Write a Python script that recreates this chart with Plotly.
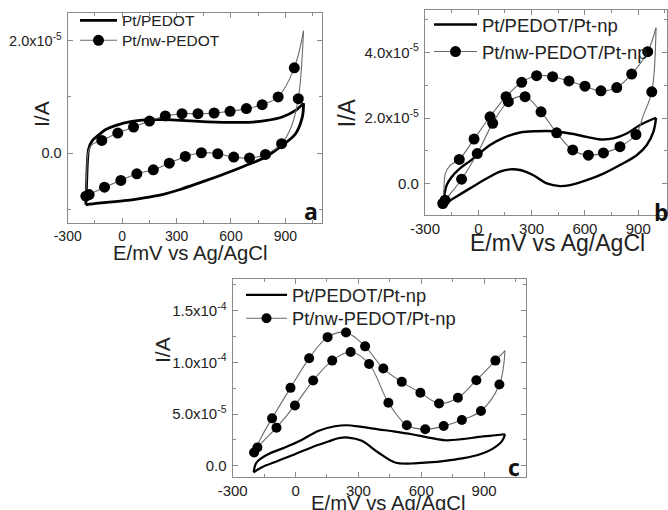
import numpy as np
import plotly.graph_objects as go

W, H = 668, 510
SCALE = 1e-5  # currents below are given in units of 1e-5 A

# ---------------- Panel a ----------------
a_pedot_fwd_E = [-200, -196, -191, -184, -165, -130, -90, -38, 54, 146, 238, 330, 422, 514, 606, 698, 790, 882, 956, 1000]
a_pedot_fwd_I = [-0.92, -0.55, -0.15, 0.08, 0.22, 0.32, 0.42, 0.49, 0.565, 0.595, 0.595, 0.583, 0.565, 0.553, 0.548, 0.548, 0.577, 0.643, 0.76, 0.89]
a_pedot_rev_E = [1000, 993, 956, 882, 790, 698, 606, 514, 422, 330, 238, 146, 54, -38, -130, -200]
a_pedot_rev_I = [0.89, 0.64, 0.345, 0.137, -0.07, -0.2, -0.32, -0.43, -0.535, -0.637, -0.726, -0.786, -0.833, -0.863, -0.893, -0.92]

a_nw_fwd_E = [-200, -195, -188, -172, -145, -112, -24, 63, 151, 238, 330, 418, 507, 595, 685, 772, 860, 949, 1000]
a_nw_fwd_I = [-0.77, -0.35, 0.0, 0.13, 0.19, 0.226, 0.357, 0.464, 0.571, 0.661, 0.702, 0.702, 0.714, 0.744, 0.792, 0.863, 1.0, 1.518, 2.18]
a_nw_rev_E = [1000, 971, 930, 879, 790, 702, 615, 527, 437, 348, 260, 172, 81, -7, -97, -182, -200]
a_nw_rev_I = [2.18, 0.97, 0.45, 0.167, -0.024, -0.089, -0.071, -0.012, 0.006, -0.06, -0.179, -0.298, -0.369, -0.488, -0.607, -0.738, -0.768]
a_mark_E = [-112, -24, 63, 151, 238, 330, 418, 507, 595, 685, 772, 860, 949,
            971, 879, 790, 702, 615, 527, 437, 348, 260, 172, 81, -7, -97, -182, -200]
a_mark_I = [0.226, 0.357, 0.464, 0.571, 0.661, 0.702, 0.702, 0.714, 0.744, 0.792, 0.863, 1.0, 1.518,
            0.97, 0.167, -0.024, -0.089, -0.071, -0.012, 0.006, -0.06, -0.179, -0.298, -0.369, -0.488, -0.607, -0.738, -0.768]

# ---------------- Panel b ----------------
b_pedot_fwd_E = [-200, -190, -178, -150, -103, -47, 10, 66, 141, 235, 328, 422, 516, 610, 685, 760, 835, 910, 1000]
b_pedot_fwd_I = [-0.65, -0.3, -0.04, 0.21, 0.47, 0.69, 0.94, 1.18, 1.40, 1.56, 1.60, 1.60, 1.53, 1.43, 1.35, 1.38, 1.53, 1.79, 2.01]
b_pedot_rev_E = [1000, 985, 948, 891, 797, 704, 610, 516, 460, 385, 310, 235, 178, 122, 47, -47, -141, -200]
b_pedot_rev_I = [2.01, 1.58, 1.18, 0.87, 0.57, 0.31, 0.11, -0.04, -0.07, 0.01, 0.26, 0.42, 0.44, 0.37, 0.16, -0.14, -0.45, -0.65]

b_nw_fwd_E = [-200, -194, -186, -160, -107, -24, 66, 156, 244, 328, 418, 510, 600, 690, 779, 863, 953, 1000]
b_nw_fwd_I = [-0.6, -0.2, 0.3, 0.55, 0.74, 1.36, 2.04, 2.65, 3.09, 3.29, 3.26, 3.13, 2.97, 2.83, 2.93, 3.34, 4.02, 4.75]
b_nw_rev_E = [1000, 976, 929, 887, 797, 704, 619, 531, 441, 353, 263, 169, 81, -6, -94, -187, -200]
b_nw_rev_I = [4.75, 2.80, 2.09, 1.50, 1.13, 0.94, 0.87, 1.03, 1.55, 2.19, 2.65, 2.50, 1.84, 0.92, 0.14, -0.50, -0.6]
b_mark_E = [-107, -24, 66, 156, 244, 328, 418, 510, 600, 690, 779, 863, 953,
            976, 887, 797, 704, 619, 531, 441, 353, 263, 169, 81, -6, -94, -187, -200]
b_mark_I = [0.74, 1.36, 2.04, 2.65, 3.09, 3.29, 3.26, 3.13, 2.97, 2.83, 2.93, 3.34, 4.02,
            2.80, 1.50, 1.13, 0.94, 0.87, 1.03, 1.55, 2.19, 2.65, 2.50, 1.84, 0.92, 0.14, -0.50, -0.6]

# ---------------- Panel c ----------------
c_pedot_fwd_E = [-200, -192, -179, -131, -51, 29, 108, 188, 244, 316, 395, 475, 555, 635, 714, 794, 874, 954, 1000]
c_pedot_fwd_I = [-0.64, 0.1, 0.48, 1.12, 1.77, 2.50, 3.37, 3.82, 3.92, 3.76, 3.53, 3.31, 3.05, 2.73, 2.47, 2.57, 2.79, 2.95, 3.05]
c_pedot_rev_E = [1000, 986, 938, 874, 794, 714, 635, 555, 475, 395, 316, 252, 204, 156, 76, -3, -83, -163, -200]
c_pedot_rev_I = [3.05, 2.41, 1.61, 1.06, 0.71, 0.48, 0.32, 0.22, 0.32, 1.28, 2.41, 2.73, 2.66, 2.34, 1.77, 1.12, 0.48, -0.16, -0.64]

c_nw_fwd_E = [-198, -160, -112, -24, 65, 153, 241, 332, 419, 507, 596, 685, 775, 863, 954, 1000]
c_nw_fwd_I = [1.28, 2.9, 4.59, 7.54, 10.4, 12.45, 12.9, 11.56, 9.41, 8.12, 7.06, 6.03, 6.58, 8.28, 10.18, 11.14]
c_nw_rev_E = [1000, 973, 885, 794, 707, 619, 531, 443, 351, 263, 175, 84, -3, -91, -182, -198]
c_nw_rev_I = [11.14, 7.86, 5.30, 4.43, 3.85, 3.53, 3.92, 6.10, 9.85, 11.01, 10.18, 8.25, 5.84, 3.69, 1.77, 1.28]
c_mark_E = [-112, -24, 65, 153, 241, 332, 419, 507, 596, 685, 775, 863, 954,
            973, 885, 794, 707, 619, 531, 443, 351, 263, 175, 84, -3, -91, -182, -198]
c_mark_I = [4.59, 7.54, 10.4, 12.45, 12.9, 11.56, 9.41, 8.12, 7.06, 6.03, 6.58, 8.28, 10.18,
            7.86, 5.30, 4.43, 3.85, 3.53, 3.92, 6.10, 9.85, 11.01, 10.18, 8.25, 5.84, 3.69, 1.77, 1.28]

x_ticks = [-300, 0, 300, 600, 900]
x_ticktext = ["-300", "0", "300", "600", "900"]
a_yticks = [0, 2e-5]
a_yticktext = ["0.0", "2.0x10<sup>-5</sup>"]
b_yticks = [0, 2e-5, 4e-5]
b_yticktext = ["0.0", "2.0x10<sup>-5</sup>", "4.0x10<sup>-5</sup>"]
c_yticks = [0, 5e-5, 1e-4, 1.5e-4]
c_yticktext = ["0.0", "5.0x10<sup>-5</sup>", "1.0x10<sup>-4</sup>", "1.5x10<sup>-4</sup>"]

names = {
    "a": ("Pt/PEDOT", "Pt/nw-PEDOT"),
    "b": ("Pt/PEDOT/Pt-np", "Pt/nw-PEDOT/Pt-np"),
    "c": ("Pt/PEDOT/Pt-np", "Pt/nw-PEDOT/Pt-np"),
}

FONT = "Liberation Sans, Arial, sans-serif"
FRAME = "#8a8a8a"
THIN = "#6a6a6a"


def px(x):
    return x / W


def py(y):
    return 1 - y / H


panels = {
    "a": dict(xd=(67.7, 321.7), yd=(13.3, 222.7), xr=(-300, 1100), yr=(-1.24e-5, 2.49e-5),
              yt=(a_yticks, a_yticktext), ymin=1e-5, lw=2.8, ms=11, tf=14, yf=14.5,
              data=(a_pedot_fwd_E, a_pedot_fwd_I, a_pedot_rev_E, a_pedot_rev_I,
                    a_nw_fwd_E, a_nw_fwd_I, a_nw_rev_E, a_nw_rev_I, a_mark_E, a_mark_I),
              ax="", legs=("legend", "legend2")),
    "b": dict(xd=(425, 666.7), yd=(10, 215), xr=(-300, 1060), yr=(-0.95e-5, 5.29e-5),
              yt=(b_yticks, b_yticktext), ymin=1e-5, lw=2.4, ms=11, tf=15, yf=15,
              data=(b_pedot_fwd_E, b_pedot_fwd_I, b_pedot_rev_E, b_pedot_rev_I,
                    b_nw_fwd_E, b_nw_fwd_I, b_nw_rev_E, b_nw_rev_I, b_mark_E, b_mark_I),
              ax="2", legs=("legend3", "legend4")),
    "c": dict(xd=(232.7, 526), yd=(279.3, 476.7), xr=(-300, 1100), yr=(-1.06e-5, 1.805e-4),
              yt=(c_yticks, c_yticktext), ymin=2.5e-5, lw=2.2, ms=10, tf=15, yf=15,
              data=(c_pedot_fwd_E, c_pedot_fwd_I, c_pedot_rev_E, c_pedot_rev_I,
                    c_nw_fwd_E, c_nw_fwd_I, c_nw_rev_E, c_nw_rev_I, c_mark_E, c_mark_I),
              ax="3", legs=("legend5", "legend6")),
}

fig = go.Figure()
layout = dict(width=W, height=H, margin=dict(l=0, r=0, t=0, b=0, autoexpand=False),
              paper_bgcolor="white", plot_bgcolor="white",
              font=dict(family=FONT, color="#222"), annotations=[])

for key, p in panels.items():
    (pfE, pfI, prE, prI, nfE, nfI, nrE, nrI, mE, mI) = p["data"]
    xa = "x" + p["ax"]
    ya = "y" + p["ax"]
    n1, n2 = names[key]
    leg1, leg2 = p["legs"]
    thick = dict(color="black", width=p["lw"])
    thin = dict(color=THIN, width=1.1)
    # thick CV loop (two branches)
    fig.add_trace(go.Scatter(x=pfE, y=np.array(pfI) * SCALE, mode="lines", line=thick,
                             line_shape="spline", xaxis=xa, yaxis=ya, name=n1,
                             legend=leg1, legendgroup=key + "1", showlegend=True))
    fig.add_trace(go.Scatter(x=prE, y=np.array(prI) * SCALE, mode="lines", line=thick,
                             line_shape="spline", xaxis=xa, yaxis=ya, name=n1,
                             legend=leg1, legendgroup=key + "1", showlegend=False))
    # thin CV loop with markers
    fig.add_trace(go.Scatter(x=nfE, y=np.array(nfI) * SCALE, mode="lines", line=thin,
                             line_shape="spline", xaxis=xa, yaxis=ya, name=n2,
                             legend=leg2, legendgroup=key + "2", showlegend=False))
    fig.add_trace(go.Scatter(x=nrE, y=np.array(nrI) * SCALE, mode="lines", line=thin,
                             line_shape="spline", xaxis=xa, yaxis=ya, name=n2,
                             legend=leg2, legendgroup=key + "2", showlegend=False))
    fig.add_trace(go.Scatter(x=mE, y=np.array(mI) * SCALE, mode="markers",
                             marker=dict(color="black", size=p["ms"], line=dict(width=0)),
                             xaxis=xa, yaxis=ya, name=n2, legend=leg2, legendgroup=key + "2",
                             showlegend=False))
    # legend sample (line through a marker), no data of its own
    fig.add_trace(go.Scatter(x=[None], y=[None], mode="lines+markers",
                             line=dict(color=THIN, width=1.1),
                             marker=dict(color="black", size=p["ms"]),
                             xaxis=xa, yaxis=ya, name=n2, legend=leg2, legendgroup=key + "2",
                             showlegend=True))

    xd = [px(p["xd"][0]), px(p["xd"][1])]
    yd = [py(p["yd"][1]), py(p["yd"][0])]
    common = dict(showgrid=False, zeroline=False, showline=True, linecolor=FRAME, linewidth=1.3,
                  mirror="ticks", ticks="inside", tickcolor=FRAME, ticklen=5, tickwidth=1,
                  automargin=False)
    layout["xaxis" + p["ax"]] = dict(common, domain=xd, range=list(p["xr"]), anchor=ya,
                                     tickvals=x_ticks, ticktext=x_ticktext,
                                     tickfont=dict(size=p["tf"], color="#222"),
                                     minor=dict(ticks="inside", ticklen=3, tickcolor=FRAME,
                                                tick0=-150, dtick=300))
    layout["yaxis" + p["ax"]] = dict(common, domain=yd, range=list(p["yr"]), anchor=xa,
                                     tickvals=p["yt"][0], ticktext=p["yt"][1],
                                     tickfont=dict(size=p["yf"], color="#222"),
                                     ticklabelstandoff=2,
                                     minor=dict(ticks="inside", ticklen=3, tickcolor=FRAME,
                                                tick0=0, dtick=p["ymin"]))

# legends: one per entry, placed like the reference
leg_specs = [
    ("legend", 75, 20.7, 15.5, 37),
    ("legend2", 75, 40.7, 15.5, 37),
    ("legend3", 429, 25, 18.5, 43),
    ("legend4", 429, 52, 18.5, 43),
    ("legend5", 241, 295, 18.3, 41),
    ("legend6", 241, 318.3, 18.3, 41),
]
for nm, lx, ly, fs, iw in leg_specs:
    layout[nm] = dict(x=px(lx), y=py(ly), xanchor="left", yanchor="middle",
                      bgcolor="rgba(0,0,0,0)", borderwidth=0, itemwidth=iw,
                      font=dict(size=fs, family=FONT, color="#222"),
                      tracegroupgap=0, itemclick=False)

ann = layout["annotations"]
titles = [
    ("E/mV vs Ag/AgCl", 190, 253, 20.3, 0),
    ("I/A", 42, 114, 21, -90),
    ("E/mV vs Ag/AgCl", 557, 243, 23, 0),
    ("I/A", 346.7, 112.5, 23, -90),
    ("E/mV vs Ag/AgCl", 388, 503, 20.3, 0),
    ("I/A", 162, 350, 21, -90),
]
for txt, x, y, fs, ang in titles:
    ann.append(dict(text=txt, x=px(x), y=py(y), xref="paper", yref="paper",
                    xanchor="center", yanchor="middle", showarrow=False, textangle=ang,
                    font=dict(size=fs, family=FONT, color="#222")))
for lab, x, y in [("a", 310.5, 211), ("b", 661, 212), ("c", 514, 467)]:
    ann.append(dict(text="<b>%s</b>" % lab, x=px(x), y=py(y), xref="paper", yref="paper",
                    xanchor="center", yanchor="middle", showarrow=False,
                    font=dict(size=23, family="Open Sans, DejaVu Sans, sans-serif", color="#111")))

fig.update_layout(**layout)
fig.write_html("out.html")
